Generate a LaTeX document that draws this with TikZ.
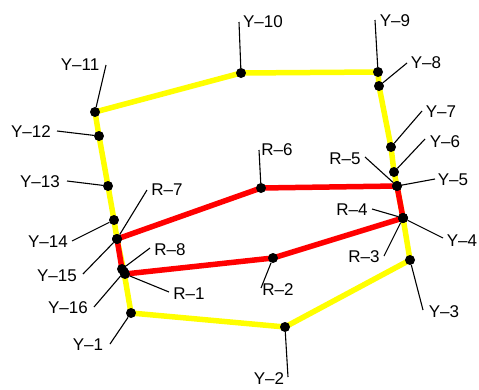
\documentclass[tikz,border=0pt]{standalone}
\usepackage{fontspec}
\setmainfont{Liberation Sans}
\usetikzlibrary{backgrounds}
\begin{document}
\begin{tikzpicture}[x=1pt,y=-1pt,
  dot/.style={circle,fill=black,minimum size=10pt,inner sep=0pt},
  lab/.style={inner sep=0pt,font=\fontsize{17}{17}\selectfont},
  leader/.style={draw=black,line width=1.1pt},
  yline/.style={draw={rgb,255:red,255;green,255;blue,0},line width=5.5pt,line join=round},
  rline/.style={draw={rgb,255:red,255;green,0;blue,0},line width=5.5pt,line join=round}]
\useasboundingbox (0,0) rectangle (479,389);
% dots
\node[dot] (y1) at (131,313) {};
\node[dot] (y2) at (285,327) {};
\node[dot] (y3) at (410,260) {};
\node[dot] (y4) at (403,218) {};
\node[dot] (y5) at (397,186) {};
\node[dot] (y6) at (394,172) {};
\node[dot] (y7) at (391,147) {};
\node[dot] (y8) at (379,86) {};
\node[dot] (y9) at (378,72) {};
\node[dot] (y10) at (241,73) {};
\node[dot] (y11) at (95,112) {};
\node[dot] (y12) at (99,136) {};
\node[dot] (y13) at (108,186) {};
\node[dot] (y14) at (114,220) {};
\node[dot] (y15) at (117,239) {};
\node[dot] (y16) at (124,272) {};
\node[dot] (r1) at (125,274) {};
\node[dot] (r2) at (273,258) {};
\node[dot] (r3) at (403,218) {};
\node[dot] (r4) at (403,218) {};
\node[dot] (r5) at (397,186) {};
\node[dot] (r6) at (261,188) {};
\node[dot] (r7) at (117,239) {};
\node[dot] (r8) at (122,269) {};
\begin{pgfonlayer}{background}
\draw[yline] (y1.center) -- (y2.center) -- (y3.center) -- (y4.center) -- (y5.center) -- (y6.center) -- (y7.center) -- (y8.center) -- (y9.center) -- (y10.center) -- (y11.center) -- (y12.center) -- (y13.center) -- (y14.center) -- (y15.center) -- (y16.center) -- cycle;
\draw[rline] (r1.center) -- (r2.center) -- (r3.center) -- (r4.center) -- (r5.center) -- (r6.center) -- (r7.center) -- (r8.center) -- cycle;
\end{pgfonlayer}
% labels
\node[lab] (ty1) at (88,345) {Y–1};
\node[lab] (ty2) at (269,379) {Y–2};
\node[lab] (ty3) at (444,312) {Y–3};
\node[lab] (ty4) at (462,241) {Y–4};
\node[lab] (ty5) at (453,180) {Y–5};
\node[lab] (ty6) at (445,142) {Y–6};
\node[lab] (ty7) at (441,112) {Y–7};
\node[lab] (ty8) at (426,63) {Y–8};
\node[lab] (ty9) at (395,21) {Y–9};
\node[lab] (ty10) at (263,22) {Y–10};
\node[lab] (ty11) at (80,65) {Y–11};
\node[lab] (ty12) at (31,132) {Y–12};
\node[lab] (ty13) at (40,182) {Y–13};
\node[lab] (ty14) at (48,242) {Y–14};
\node[lab] (ty15) at (57,276) {Y–15};
\node[lab] (ty16) at (68,308) {Y–16};
\node[lab] (tr1) at (189,294) {R–1};
\node[lab] (tr2) at (278,290) {R–2};
\node[lab] (tr3) at (364,257) {R–3};
\node[lab] (tr4) at (352,210) {R–4};
\node[lab] (tr5) at (345,159) {R–5};
\node[lab] (tr6) at (277,150) {R–6};
\node[lab] (tr7) at (167,190) {R–7};
\node[lab] (tr8) at (170,250) {R–8};
% leader ends
\coordinate (ly1) at (110,344);
\coordinate (ly2) at (288,377);
\coordinate (ly3) at (423,310);
\coordinate (ly4) at (443,238);
\coordinate (ly5) at (435,179);
\coordinate (ly6) at (425,139);
\coordinate (ly7) at (422,111);
\coordinate (ly8) at (407,63);
\coordinate (ly9) at (375,20);
\coordinate (ly10) at (239,22);
\coordinate (ly11) at (106,65);
\coordinate (ly12) at (57,131);
\coordinate (ly13) at (67,181);
\coordinate (ly14) at (72,241);
\coordinate (ly15) at (83,274);
\coordinate (ly16) at (94,307);
\coordinate (lr1) at (169,292);
\coordinate (lr2) at (261,288);
\coordinate (lr3) at (384,256);
\coordinate (lr4) at (372,209);
\coordinate (lr5) at (365,157);
\coordinate (lr6) at (259,150);
\coordinate (lr7) at (147,190);
\coordinate (lr8) at (150,248);
\foreach \n in {y1,y2,y3,y4,y5,y6,y7,y8,y9,y10,y11,y12,y13,y14,y15,y16,r1,r2,r3,r4,r5,r6,r7,r8}
  \draw[leader] (l\n) -- (\n);
\end{tikzpicture}
\end{document}
